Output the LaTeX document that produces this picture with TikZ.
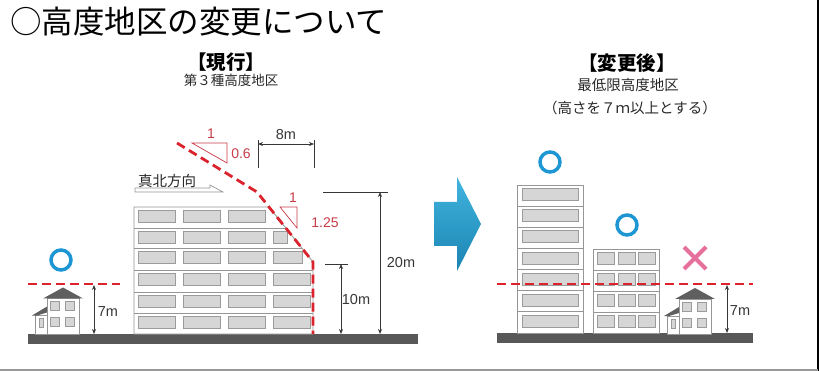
\documentclass[tikz,border=0pt]{standalone}
\usepackage{fontspec}
\setmainfont{Liberation Sans}
\newfontfamily\jp{Noto Sans CJK JP}
\usetikzlibrary{arrows.meta}
\definecolor{dashred}{RGB}{218,35,45}
\definecolor{slopered}{RGB}{200,60,72}
\definecolor{okblue}{RGB}{30,150,212}
\definecolor{ngpink}{RGB}{228,112,155}
\definecolor{groundgray}{RGB}{88,88,88}
\definecolor{wallgray}{RGB}{150,150,150}
\definecolor{winfill}{RGB}{214,214,214}
\definecolor{winedge}{RGB}{155,155,155}
\definecolor{roofgray}{RGB}{95,95,95}
\definecolor{dimgray}{RGB}{55,55,55}
\definecolor{textgray}{RGB}{40,40,40}
\definecolor{arrowtop}{RGB}{64,180,222}
\definecolor{arrowbot}{RGB}{28,132,178}

\begin{document}
\begin{tikzpicture}[x=1pt,y=-1pt,
  wall/.style={draw=wallgray,line width=0.8pt,fill=white},
  floorline/.style={draw=wallgray,line width=0.8pt},
  win/.style={draw=winedge,line width=0.6pt,fill=winfill},
  ground/.style={fill=groundgray},
  roof/.style={fill=roofgray},
  limit/.style={draw=dashred,line width=2.8pt,dash pattern=on 9pt off 5pt},
  dimline/.style={draw=dimgray,line width=0.7pt},
  dimarrow/.style={dimline,{Stealth[length=5pt,width=4pt]}-{Stealth[length=5pt,width=4pt]}},
  okmark/.style={draw=okblue,line width=3.5pt},
  ngmark/.style={draw=ngpink,line width=4pt},
  slopetri/.style={draw=slopered,line width=0.7pt},
  dimtext/.style={font=\fontsize{14.5}{14.5}\selectfont,text=dimgray,inner sep=0pt},
  redtext/.style={font=\fontsize{14}{14}\selectfont,text=slopered,inner sep=0pt},
  heading/.style={font=\jp\bfseries\fontsize{19.5}{19.5}\selectfont,text=black,inner sep=0pt},
  subheading/.style={font=\jp\fontsize{13.5}{13.5}\selectfont,text=textgray,inner sep=0pt},
  house/.pic={
    % annex
    \draw[wall] (-28,28) rectangle (-16,46.5);
    \fill[roof] (-31,28) -- (-16,19) -- (-16,25) -- (-26,28) -- cycle;
    \draw[win] (-24,31) rectangle (-20,40);
    % main body and roof
    \draw[wall] (-16,11) rectangle (16,46.5);
    \fill[roof] (-20,11) -- (0,0) -- (20,11) -- cycle;
    \foreach \wx in {-13,2} {
      \draw[win] (\wx,14) rectangle ++(9,9);
      \draw[win] (\wx,30) rectangle ++(9,9);
    }
  }
]
\useasboundingbox (0,0) rectangle (819,371);

% page frame
\draw[black,line width=2pt] (818,0) -- (818,371);
\draw[gray!80,line width=1.5pt] (0,370) -- (818,370);

% title
\node[anchor=west,inner sep=0pt,font=\jp\fontsize{31.5}{31.5}\selectfont] (title) at (10,22) {○高度地区の変更について};

% ---------------- current regulation ----------------
\node[heading] (curhead) at (226,62) {【現行】};
\node[subheading] (cursub) at (231,80) {第３種高度地区};

% ground
\fill[ground] (28,334) rectangle (418,344);

% apartment block cut by the slope limit
\draw[wall] (134,334) -- (134,207) -- (269,207) -- (313,262) -- (313,334) -- cycle;
\draw[floorline] (134,228) -- (285.8,228);
\draw[floorline] (134,248) -- (301.8,248);
\foreach \fy in {270,292,313} \draw[floorline] (134,\fy) -- (313,\fy);
\foreach \t in {207,228,248,270,292,313} {
  \foreach \cx in {138,183,228} \draw[win] (\cx,\t+3.5) rectangle ++(37,12);
}
\draw[win] (273,231.5) rectangle (287,243.5);
\draw[win] (273,251.5) rectangle (302,263.5);
\foreach \t in {270,292,313} \draw[win] (273,\t+3.5) rectangle (310,\t+15.5);

% slope limit line
\coordinate (s0) at (177,143);
\coordinate (s1) at (257,192);
\coordinate (s2) at (313,262);
\coordinate (s3) at (313,334);
\draw[limit] (s0) -- (s1) -- (s2) -- (s3);

% slope ratio marks
\draw[slopetri] (192,143) -- (227,143) -- (227,163) -- cycle;
\node[redtext] (r1a) at (211,134) {1};
\node[redtext] (r1b) at (241,154) {0.6};
\draw[slopetri] (280,207) -- (297,207) -- (297,228) -- cycle;
\node[redtext] (r2a) at (293,198) {1};
\node[redtext] (r2b) at (325,223) {1.25};

% 8m setback dimension
\coordinate (d8a) at (258,140);
\coordinate (d8b) at (258,168);
\coordinate (d8c) at (314,140);
\coordinate (d8d) at (314,168);
\draw[dimline] (d8a) -- (d8b);
\draw[dimline] (d8c) -- (d8d);
\draw[dimarrow] (258,144) -- (314,144);
\node[dimtext] (m8) at (286,135) {8m};

% 20m and 10m heights
\coordinate (t20a) at (323,192);
\coordinate (t20b) at (388,192);
\draw[dimline] (t20a) -- (t20b);
\draw[dimarrow] (380,192) -- (380,334);
\node[dimtext] (m20) at (401,263) {20m};
\coordinate (t10a) at (325,264);
\coordinate (t10b) at (348,264);
\draw[dimline] (t10a) -- (t10b);
\draw[dimarrow] (341,264) -- (341,334);
\node[dimtext] (m10) at (356,300) {10m};

% true north indicator
\draw[draw=wallgray,line width=0.7pt,fill=white] (135,192) -- (223,192) -- (210,185) -- (210,188) -- (135,188) -- cycle;
\node[inner sep=0pt,font=\jp\fontsize{14.5}{14.5}\selectfont,text=textgray] (north) at (167,181) {真北方向};

% detached house with the 7m line
\pic at (63,287.5) {house};
\draw[limit] (28,284) -- (120,284);
\draw[dimarrow] (94,285) -- (94,334);
\node[dimtext] (m7a) at (108,312) {7m};
\draw[okmark] (61,260) circle (10);

% ---------------- transition arrow ----------------
\path[top color=arrowtop,bottom color=arrowbot]
  (434,202) -- (457,202) -- (457,177) -- (481,224) -- (457,271) -- (457,246) -- (434,246) -- cycle;

% ---------------- after the change ----------------
\node[heading] (newhead) at (627,63) {【変更後】};
\node[subheading,font=\jp\fontsize{14.5}{14.5}\selectfont] (newsub) at (628,85) {最低限高度地区};
\node[subheading,font=\jp\fontsize{14.5}{14.5}\selectfont] (newnote) at (630,108) {（高さを７ｍ以上とする）};

\fill[ground] (497,333) rectangle (753,343);

% tall building
\draw[wall] (517,185) rectangle (583,333);
\foreach \k in {1,...,6} \draw[floorline] (517,185+\k*21.14) -- (583,185+\k*21.14);
\foreach \k in {0,...,6} \draw[win] (522,188.5+\k*21.14) rectangle ++(56,12);

% medium building
\draw[wall] (593,249) rectangle (659,333);
\foreach \k in {1,2,3} \draw[floorline] (593,249+\k*21) -- (659,249+\k*21);
\foreach \k in {0,...,3} {
  \foreach \cx in {597,618,638} \draw[win] (\cx,252.5+\k*21) rectangle ++(17.5,12);
}

% small house
\pic at (695,288) {house};

\draw[limit] (497,284) -- (753,284);
\draw[dimarrow] (727,285) -- (727,333);
\node[dimtext] (m7b) at (740,311) {7m};

\draw[okmark] (550,162) circle (10);
\draw[okmark] (627,225) circle (10);
\draw[ngmark] (684,247) -- (706,269);
\draw[ngmark] (706,247) -- (684,269);
\end{tikzpicture}
\end{document}
